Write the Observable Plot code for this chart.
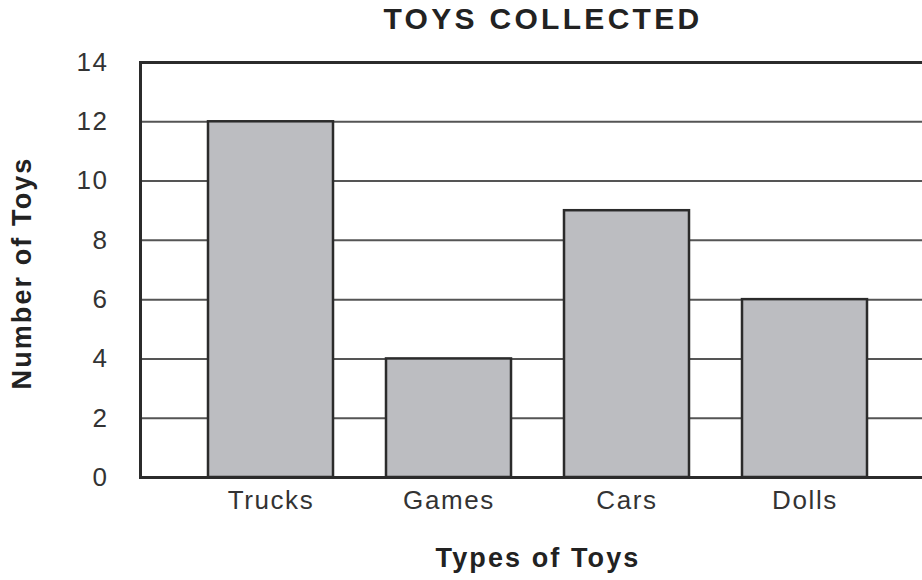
<!DOCTYPE html>
<html>
<head>
<meta charset="utf-8">
<script src="https://cdn.jsdelivr.net/npm/d3@7"></script>
<script src="https://cdn.jsdelivr.net/npm/@observablehq/plot@0.6"></script>
<style>
  html, body { margin: 0; padding: 0; background: #fff; overflow: hidden; width: 922px; height: 580px; }
  #wrap { position: relative; width: 922px; height: 580px; overflow: hidden; }
  #title { position: absolute; top: 2px; left: 543px; transform: translateX(-50%); white-space: nowrap;
    font-family: "Liberation Sans", Arial, sans-serif; font-weight: bold; font-size: 30px; letter-spacing: 3.3px; color: #222; }
  #chart { position: absolute; top: 40px; left: 0; }
  #chart svg { overflow: hidden; }
  #chart svg text { letter-spacing: 1.6px; }
  #chart svg g[font-weight="bold"] text { letter-spacing: 2.1px; }
</style>
</head>
<body>
<div id="wrap">
  <div id="title">TOYS COLLECTED</div>
  <div id="chart"></div>
</div>
<script>
const categories = ["Trucks", "Games", "Cars", "Dolls"];
const counts = [12, 4, 9, 6];
const yTicks = [0, 2, 4, 6, 8, 10, 12, 14];
const gridValues = [2, 4, 6, 8, 10, 12];
const xLabel = "Types of Toys";
const yLabel = "Number of Toys";

const data = categories.map((c, i) => ({type: c, count: counts[i]}));

const chart = Plot.plot({
  width: 922,
  height: 540,
  marginTop: 22,
  marginBottom: 103,
  marginLeft: 140,
  marginRight: -13,
  style: {fontFamily: "Liberation Sans, Arial, sans-serif", fontSize: "26px", color: "#333", background: "white"},
  x: {domain: categories, paddingInner: 0.296, paddingOuter: 0.369, align: 0.5, label: null, tickSize: 0, tickPadding: 13},
  y: {domain: [0, 14], ticks: yTicks, tickFormat: d => String(d), label: null, tickSize: 0, tickPadding: 32},
  marks: [
    Plot.ruleY(gridValues, {stroke: "#555", strokeWidth: 2}),
    Plot.barY(data, {x: "type", y: "count", fill: "#bcbdc1", stroke: "#2b2b2b", strokeWidth: 2.5}),
    Plot.frame({stroke: "#2b2b2b", strokeWidth: 3}),
    Plot.text([xLabel], {frameAnchor: "bottom", dy: 81, text: d => d, fontWeight: "bold", fontSize: 27, fill: "#222", textAnchor: "middle", lineAnchor: "middle"}),
    Plot.text([yLabel], {frameAnchor: "left", dx: -118, dy: 3, rotate: -90, text: d => d, fontWeight: "bold", fontSize: 27, fill: "#222", textAnchor: "middle", lineAnchor: "middle"})
  ]
});
document.getElementById("chart").appendChild(chart);
</script>
</body>
</html>
